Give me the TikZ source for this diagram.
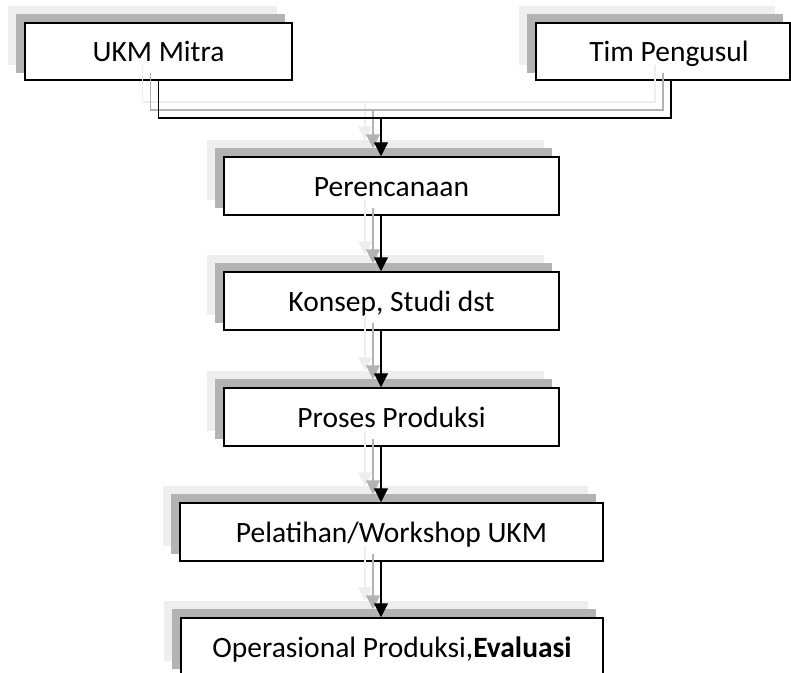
\documentclass[tikz,border=0pt]{standalone}
\usepackage{fontspec}
\setmainfont{Carlito}
\usetikzlibrary{arrows.meta,calc}
\pgfdeclarelayer{bg}
\pgfsetlayers{bg,main}
\definecolor{shdark}{HTML}{B3B3B3}
\definecolor{shlight}{HTML}{EEEEEE}
\tikzset{
  box/.style={draw=black, line width=1.5pt, fill=white, rectangle, inner sep=0pt,
    text height=24pt, text depth=4pt, font=\fontsize{29.5}{35}\selectfont},
  conn/.style={line width=1.2pt, draw=black},
  tip/.style={-{Triangle[length=14pt,width=14pt]}},
}
\newcommand\flowlines[2]{%
  \draw[#2] ([shift={(#1,#1)}]ukm.south) |- ([shift={(#1,#1)}]j) -| ([shift={(#1,#1)}]ts);
  \foreach \a/\b in {j/e1, s1/e2, s2/e3, s3/e4, s4/e5}
    \draw[#2,tip] ([shift={(#1,#1)}]\a) -- ([shift={(#1,#1)}]\b);
}
\begin{document}
\begin{tikzpicture}[x=1pt,y=-1pt]
\useasboundingbox (0,0) rectangle (791,672);
\node[box, minimum width=267pt, minimum height=57pt] (ukm) at (158.5,51.5) {UKM Mitra};
\node[box, minimum width=254pt, minimum height=57pt] (tim) at (663,51.5) {\hspace*{12pt}Tim Pengusul};
\node[box, minimum width=335pt, minimum height=58pt] (per) at (391.5,186) {Perencanaan};
\node[box, minimum width=335pt, minimum height=58pt] (kon) at (391.5,301) {Konsep, Studi dst};
\node[box, minimum width=335pt, minimum height=58pt] (pro) at (391.5,417) {Proses Produksi};
\node[box, minimum width=423pt, minimum height=58pt] (pel) at (391.5,532) {Pelatihan/Workshop UKM};
\node[box, minimum width=422pt, minimum height=58pt] (ope) at (392,647) {Operasional Produksi,\textbf{Evaluasi}};
\begin{pgfonlayer}{bg}
  \foreach \n in {ukm,tim,per,kon,pro,pel,ope}{
    \fill[shlight] ([shift={(-16,-16)}]\n.south west) rectangle ([shift={(-16,-16)}]\n.north east);
    \fill[shdark] ([shift={(-8,-8)}]\n.south west) rectangle ([shift={(-8,-8)}]\n.north east);
  }
\end{pgfonlayer}
\coordinate (j) at (381,118);
\coordinate (ts) at ([xshift=8pt]tim.south);
\coordinate (e1) at (per.north -| j);
\coordinate (s1) at (per.south -| j);
\coordinate (e2) at (kon.north -| j);
\coordinate (s2) at (kon.south -| j);
\coordinate (e3) at (pro.north -| j);
\coordinate (s3) at (pro.south -| j);
\coordinate (e4) at (pel.north -| j);
\coordinate (s4) at (pel.south -| j);
\coordinate (e5) at (ope.north -| j);
\flowlines{-16}{line width=1.2pt, draw=shlight}
\flowlines{-8}{line width=1.2pt, draw=shdark}
\flowlines{0}{conn}
\end{tikzpicture}
\end{document}
